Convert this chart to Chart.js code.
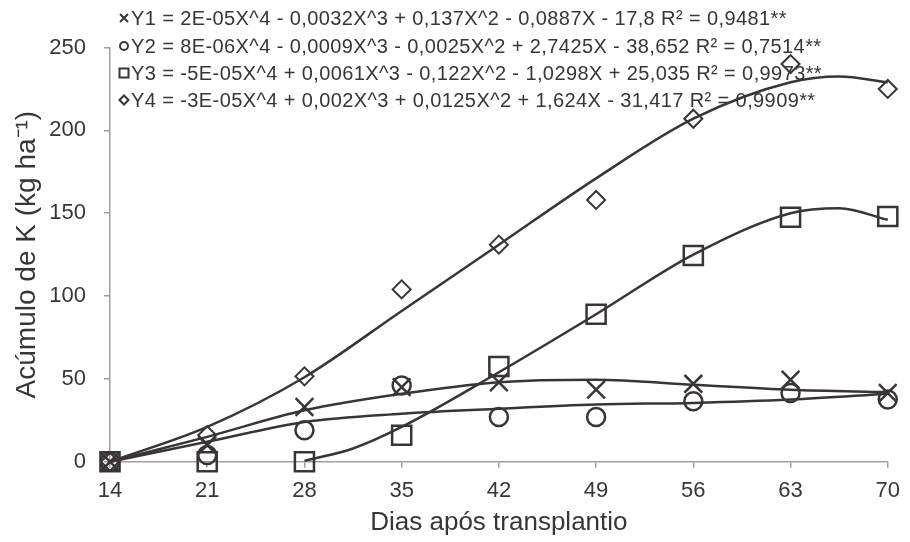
<!DOCTYPE html>
<html>
<head>
<meta charset="utf-8">
<script src="https://cdn.jsdelivr.net/npm/chart.js@4.4.0/dist/chart.umd.min.js"></script>
<style>
  html, body { margin: 0; padding: 0; background: #ffffff; }
  canvas { display: block; }
</style>
</head>
<body>
<canvas id="chart" width="910" height="542"></canvas>
<script>
// ---- data ----
const days = [14, 21, 28, 35, 42, 49, 56, 63, 70];

// observed points
const y1Obs = [0, 10, 33, 45, 48, 43.5, 47, 49.5, 41.5];
const y2Obs = [0, 4, 19, 46, 27, 27, 36.5, 41.5, 37.5];
const y3Obs = [0, 0, 0, 16, 57.5, 89, 124.5, 147.5, 148];
const y4Obs = [0, 16, 51.5, 104, 131, 158, 207, 240, 225];

// fitted curves
const fitDays1 = [14, 21, 28, 35, 42, 49, 56, 63, 70];
const y1Fit = [0, 15, 31, 41, 48, 49.5, 46.5, 43.5, 42];
const fitDays2 = [14, 21, 28, 35, 42, 49, 56, 63, 70];
const y2Fit = [0, 12, 24, 29, 32, 34.5, 35.5, 37.5, 41];
const fitDays3 = [28, 31.5, 35, 42, 49, 56, 63, 66.5, 70];
const y3Fit = [0.5, 8, 21, 54, 89, 125, 150, 153, 146];
const fitDays4 = [14, 21, 28, 35, 42, 49, 56, 63, 66.5, 70];
const y4Fit = [0, 21, 51, 91, 131, 171, 207, 229, 232.5, 229];

const legendLabels = [
    'Y1 = 2E-05X^4 - 0,0032X^3 + 0,137X^2 - 0,0887X - 17,8 R² = 0,9481**',
    'Y2 = 8E-06X^4 - 0,0009X^3 - 0,0025X^2 + 2,7425X - 38,652 R² = 0,7514**',
    'Y3 = -5E-05X^4 + 0,0061X^3 - 0,122X^2 - 1,0298X + 25,035 R² = 0,9973**',
    'Y4 = -3E-05X^4 + 0,002X^3 + 0,0125X^2 + 1,624X - 31,417 R² = 0,9909**'
];
const xTitle = 'Dias após transplantio';
const yTitle = 'Acúmulo de K (kg ha⁻¹)';

// ---- styles ----
const INK = '#3b3436';
const AXIS = '#a39d9e';
const FONT = '"Liberation Sans", Arial, sans-serif';

const pts = (xs, ys) => xs.map((x, i) => ({ x: x, y: ys[i] }));

function markerSet(label, ys, style, radius, bw) {
    return {
        label: label,
        data: pts(days, ys),
        showLine: false,
        pointStyle: style,
        pointRadius: radius,
        pointHoverRadius: radius,
        pointBorderWidth: bw,
        pointBorderColor: INK,
        pointBackgroundColor: 'rgba(0,0,0,0)',
        clip: false
    };
}

function curveSet(xs, ys) {
    return {
        label: 'fit',
        data: pts(xs, ys),
        showLine: true,
        borderColor: INK,
        borderWidth: 2.5,
        pointRadius: 0,
        cubicInterpolationMode: 'monotone',
        clip: false
    };
}

// small legend symbols drawn by hand
function drawSymbol(ctx, kind, x, y) {
    ctx.save();
    ctx.strokeStyle = INK;
    ctx.lineWidth = 2;
    ctx.beginPath();
    if (kind === 'cross') {
        ctx.moveTo(x - 4, y - 4); ctx.lineTo(x + 4, y + 4);
        ctx.moveTo(x + 4, y - 4); ctx.lineTo(x - 4, y + 4);
    } else if (kind === 'circle') {
        ctx.arc(x, y, 4, 0, Math.PI * 2);
    } else if (kind === 'square') {
        ctx.rect(x - 4.5, y - 4.5, 9, 9);
    } else {
        ctx.moveTo(x - 4.5, y); ctx.lineTo(x, y - 4.5);
        ctx.lineTo(x + 4.5, y); ctx.lineTo(x, y + 4.5);
        ctx.closePath();
    }
    ctx.stroke();
    ctx.restore();
}

const legendPlugin = {
    id: 'eqLegend',
    afterDraw(chart) {
        const ctx = chart.ctx;
        const kinds = ['cross', 'circle', 'square', 'diamond'];
        const rows = [18, 46, 73, 100];
        ctx.save();
        ctx.font = '20px ' + FONT;
        if ('letterSpacing' in ctx) ctx.letterSpacing = '0.4px';
        ctx.fillStyle = INK;
        ctx.textBaseline = 'middle';
        ctx.textAlign = 'left';
        legendLabels.forEach((txt, i) => {
            drawSymbol(ctx, kinds[i], 124, rows[i]);
            ctx.fillText(txt, 131, rows[i] + 1);
        });
        ctx.restore();
    }
};

new Chart(document.getElementById('chart'), {
    type: 'scatter',
    data: {
        datasets: [
            curveSet(fitDays4, y4Fit),
            curveSet(fitDays3, y3Fit),
            curveSet(fitDays1, y1Fit),
            curveSet(fitDays2, y2Fit),
            markerSet('Y1', y1Obs, 'crossRot', 12.5, 2.5),
            markerSet('Y2', y2Obs, 'circle', 9, 2.5),
            markerSet('Y3', y3Obs, 'rect', 13.5, 2.5),
            markerSet('Y4', y4Obs, 'rectRot', 9, 2)
        ]
    },
    options: {
        responsive: false,
        animation: false,
        events: [],
        layout: { padding: { top: 47.5, right: 17, bottom: 0, left: 0 } },
        plugins: {
            legend: { display: false },
            tooltip: { enabled: false }
        },
        scales: {
            x: {
                type: 'linear',
                min: 14, max: 70,
                afterFit: (s) => { s.height = 80.3; },
                border: { display: true, color: AXIS, width: 1.5 },
                grid: { drawOnChartArea: false, drawTicks: true, tickLength: 6, color: AXIS, lineWidth: 1.5 },
                ticks: { stepSize: 7, padding: 10, color: INK, font: { family: FONT, size: 22 } },
                title: { display: true, text: xTitle, color: INK, font: { family: FONT, size: 26 }, padding: { top: 0, bottom: 4 } }
            },
            y: {
                min: 0, max: 250,
                afterFit: (s) => { s.width = 110; },
                border: { display: true, color: AXIS, width: 1.5 },
                grid: { drawOnChartArea: false, drawTicks: true, tickLength: 6, color: AXIS, lineWidth: 1.5 },
                ticks: { stepSize: 50, padding: 18, color: INK, font: { family: FONT, size: 22 } },
                title: { display: true, text: yTitle, color: INK, font: { family: FONT, size: 28 }, padding: { top: 10, bottom: 0 } }
            }
        }
    },
    plugins: [legendPlugin]
});
</script>
</body>
</html>
